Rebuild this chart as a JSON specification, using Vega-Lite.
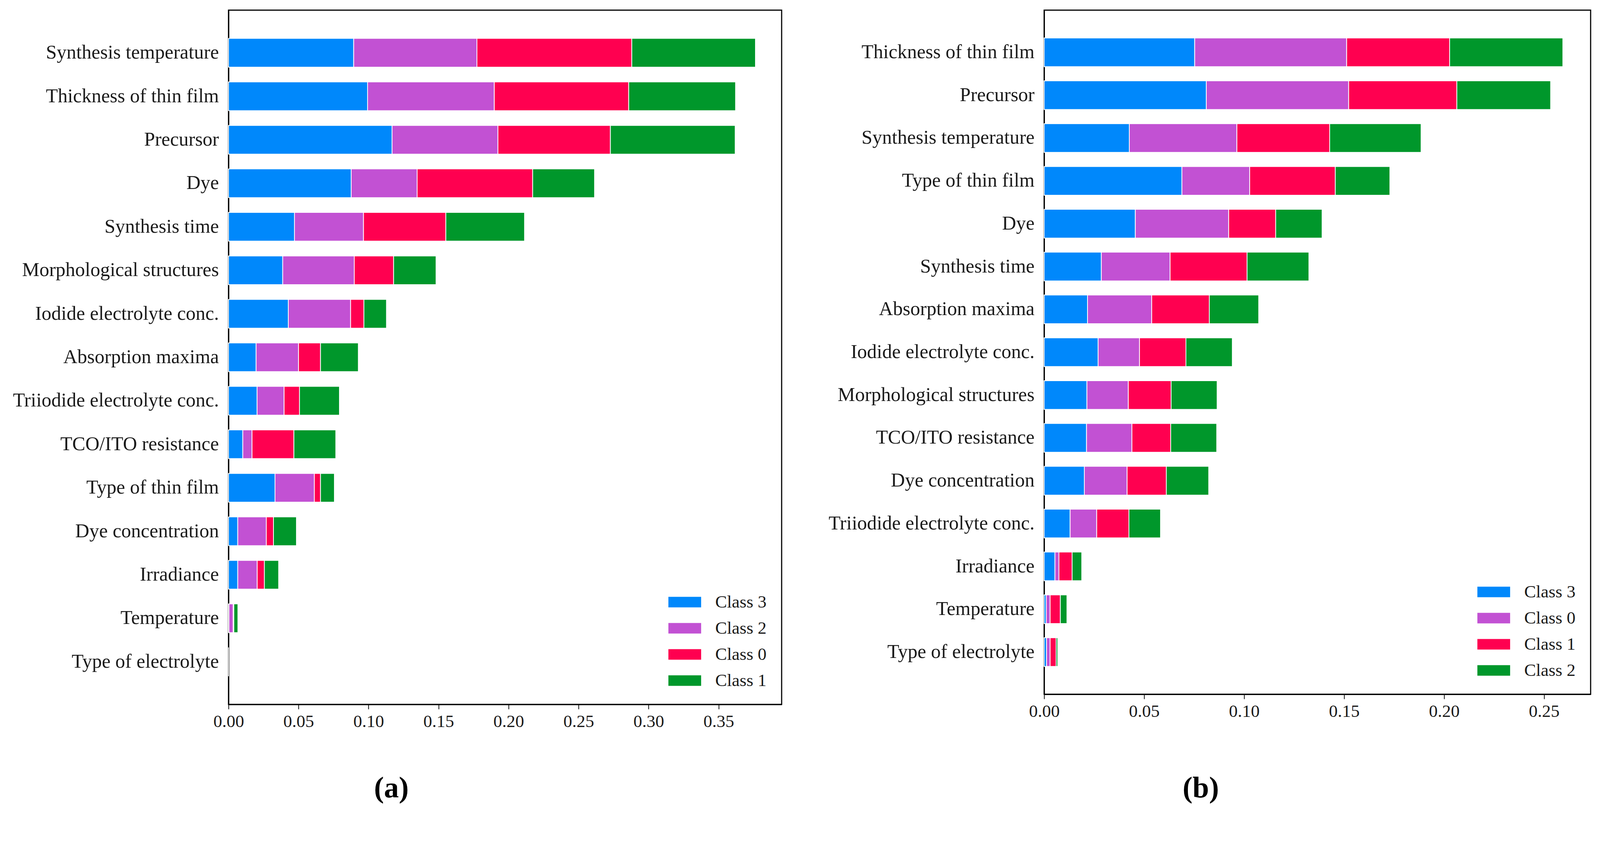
{
  "$schema": "https://vega.github.io/schema/vega-lite/v6.json",
  "background": "white",
  "padding": {"left": 31, "top": 24, "right": 20, "bottom": 0},
  "autosize": {"type": "pad"},
  "spacing": 111,
  "config": {
    "view": {"stroke": "black", "strokeWidth": 2.9},
    "font": "Liberation Serif",
    "axis": {"labelFont": "Liberation Serif", "labelColor": "#1a1a1a", "grid": false, "title": null, "domainColor": "black", "tickColor": "black", "labelFlush": false, "zindex": 1},
    "legend": {"labelFont": "Liberation Serif", "labelColor": "#1a1a1a"}
  },
  "datasets": {
    "a": [
      {"f": "Synthesis temperature", "c": "Class 3", "s": 1, "v": 0.0894},
      {"f": "Synthesis temperature", "c": "Class 2", "s": 2, "v": 0.0880},
      {"f": "Synthesis temperature", "c": "Class 0", "s": 3, "v": 0.1106},
      {"f": "Synthesis temperature", "c": "Class 1", "s": 4, "v": 0.0883},
      {"f": "Thickness of thin film", "c": "Class 3", "s": 1, "v": 0.0993},
      {"f": "Thickness of thin film", "c": "Class 2", "s": 2, "v": 0.0905},
      {"f": "Thickness of thin film", "c": "Class 0", "s": 3, "v": 0.0960},
      {"f": "Thickness of thin film", "c": "Class 1", "s": 4, "v": 0.0763},
      {"f": "Precursor", "c": "Class 3", "s": 1, "v": 0.1168},
      {"f": "Precursor", "c": "Class 2", "s": 2, "v": 0.0756},
      {"f": "Precursor", "c": "Class 0", "s": 3, "v": 0.0803},
      {"f": "Precursor", "c": "Class 1", "s": 4, "v": 0.0891},
      {"f": "Dye", "c": "Class 3", "s": 1, "v": 0.0876},
      {"f": "Dye", "c": "Class 2", "s": 2, "v": 0.0471},
      {"f": "Dye", "c": "Class 0", "s": 3, "v": 0.0825},
      {"f": "Dye", "c": "Class 1", "s": 4, "v": 0.0442},
      {"f": "Synthesis time", "c": "Class 3", "s": 1, "v": 0.0471},
      {"f": "Synthesis time", "c": "Class 2", "s": 2, "v": 0.0493},
      {"f": "Synthesis time", "c": "Class 0", "s": 3, "v": 0.0588},
      {"f": "Synthesis time", "c": "Class 1", "s": 4, "v": 0.0562},
      {"f": "Morphological structures", "c": "Class 3", "s": 1, "v": 0.0387},
      {"f": "Morphological structures", "c": "Class 2", "s": 2, "v": 0.0511},
      {"f": "Morphological structures", "c": "Class 0", "s": 3, "v": 0.0281},
      {"f": "Morphological structures", "c": "Class 1", "s": 4, "v": 0.0303},
      {"f": "Iodide electrolyte conc.", "c": "Class 3", "s": 1, "v": 0.0427},
      {"f": "Iodide electrolyte conc.", "c": "Class 2", "s": 2, "v": 0.0445},
      {"f": "Iodide electrolyte conc.", "c": "Class 0", "s": 3, "v": 0.0095},
      {"f": "Iodide electrolyte conc.", "c": "Class 1", "s": 4, "v": 0.0161},
      {"f": "Absorption maxima", "c": "Class 3", "s": 1, "v": 0.0197},
      {"f": "Absorption maxima", "c": "Class 2", "s": 2, "v": 0.0303},
      {"f": "Absorption maxima", "c": "Class 0", "s": 3, "v": 0.0157},
      {"f": "Absorption maxima", "c": "Class 1", "s": 4, "v": 0.0270},
      {"f": "Triiodide electrolyte conc.", "c": "Class 3", "s": 1, "v": 0.0204},
      {"f": "Triiodide electrolyte conc.", "c": "Class 2", "s": 2, "v": 0.0193},
      {"f": "Triiodide electrolyte conc.", "c": "Class 0", "s": 3, "v": 0.0110},
      {"f": "Triiodide electrolyte conc.", "c": "Class 1", "s": 4, "v": 0.0285},
      {"f": "TCO/ITO resistance", "c": "Class 3", "s": 1, "v": 0.0102},
      {"f": "TCO/ITO resistance", "c": "Class 2", "s": 2, "v": 0.0066},
      {"f": "TCO/ITO resistance", "c": "Class 0", "s": 3, "v": 0.0299},
      {"f": "TCO/ITO resistance", "c": "Class 1", "s": 4, "v": 0.0299},
      {"f": "Type of thin film", "c": "Class 3", "s": 1, "v": 0.0332},
      {"f": "Type of thin film", "c": "Class 2", "s": 2, "v": 0.0281},
      {"f": "Type of thin film", "c": "Class 0", "s": 3, "v": 0.0044},
      {"f": "Type of thin film", "c": "Class 1", "s": 4, "v": 0.0099},
      {"f": "Dye concentration", "c": "Class 3", "s": 1, "v": 0.0066},
      {"f": "Dye concentration", "c": "Class 2", "s": 2, "v": 0.0204},
      {"f": "Dye concentration", "c": "Class 0", "s": 3, "v": 0.0051},
      {"f": "Dye concentration", "c": "Class 1", "s": 4, "v": 0.0164},
      {"f": "Irradiance", "c": "Class 3", "s": 1, "v": 0.0066},
      {"f": "Irradiance", "c": "Class 2", "s": 2, "v": 0.0139},
      {"f": "Irradiance", "c": "Class 0", "s": 3, "v": 0.0051},
      {"f": "Irradiance", "c": "Class 1", "s": 4, "v": 0.0102},
      {"f": "Temperature", "c": "Class 3", "s": 1, "v": 0.0003},
      {"f": "Temperature", "c": "Class 2", "s": 2, "v": 0.0030},
      {"f": "Temperature", "c": "Class 0", "s": 3, "v": 0.0005},
      {"f": "Temperature", "c": "Class 1", "s": 4, "v": 0.0029},
      {"f": "Type of electrolyte", "c": "Class 3", "s": 1, "v": 0},
      {"f": "Type of electrolyte", "c": "Class 2", "s": 2, "v": 0},
      {"f": "Type of electrolyte", "c": "Class 0", "s": 3, "v": 0},
      {"f": "Type of electrolyte", "c": "Class 1", "s": 4, "v": 0}
    ],
    "b": [
      {"f": "Thickness of thin film", "c": "Class 3", "s": 1, "v": 0.0753},
      {"f": "Thickness of thin film", "c": "Class 0", "s": 2, "v": 0.0760},
      {"f": "Thickness of thin film", "c": "Class 1", "s": 3, "v": 0.0515},
      {"f": "Thickness of thin film", "c": "Class 2", "s": 4, "v": 0.0566},
      {"f": "Precursor", "c": "Class 3", "s": 1, "v": 0.0811},
      {"f": "Precursor", "c": "Class 0", "s": 2, "v": 0.0712},
      {"f": "Precursor", "c": "Class 1", "s": 3, "v": 0.0541},
      {"f": "Precursor", "c": "Class 2", "s": 4, "v": 0.0469},
      {"f": "Synthesis temperature", "c": "Class 3", "s": 1, "v": 0.0426},
      {"f": "Synthesis temperature", "c": "Class 0", "s": 2, "v": 0.0538},
      {"f": "Synthesis temperature", "c": "Class 1", "s": 3, "v": 0.0464},
      {"f": "Synthesis temperature", "c": "Class 2", "s": 4, "v": 0.0457},
      {"f": "Type of thin film", "c": "Class 3", "s": 1, "v": 0.0689},
      {"f": "Type of thin film", "c": "Class 0", "s": 2, "v": 0.0339},
      {"f": "Type of thin film", "c": "Class 1", "s": 3, "v": 0.0428},
      {"f": "Type of thin film", "c": "Class 2", "s": 4, "v": 0.0273},
      {"f": "Dye", "c": "Class 3", "s": 1, "v": 0.0456},
      {"f": "Dye", "c": "Class 0", "s": 2, "v": 0.0467},
      {"f": "Dye", "c": "Class 1", "s": 3, "v": 0.0235},
      {"f": "Dye", "c": "Class 2", "s": 4, "v": 0.0232},
      {"f": "Synthesis time", "c": "Class 3", "s": 1, "v": 0.0286},
      {"f": "Synthesis time", "c": "Class 0", "s": 2, "v": 0.0344},
      {"f": "Synthesis time", "c": "Class 1", "s": 3, "v": 0.0385},
      {"f": "Synthesis time", "c": "Class 2", "s": 4, "v": 0.0309},
      {"f": "Absorption maxima", "c": "Class 3", "s": 1, "v": 0.0217},
      {"f": "Absorption maxima", "c": "Class 0", "s": 2, "v": 0.0321},
      {"f": "Absorption maxima", "c": "Class 1", "s": 3, "v": 0.0288},
      {"f": "Absorption maxima", "c": "Class 2", "s": 4, "v": 0.0247},
      {"f": "Iodide electrolyte conc.", "c": "Class 3", "s": 1, "v": 0.0270},
      {"f": "Iodide electrolyte conc.", "c": "Class 0", "s": 2, "v": 0.0207},
      {"f": "Iodide electrolyte conc.", "c": "Class 1", "s": 3, "v": 0.0232},
      {"f": "Iodide electrolyte conc.", "c": "Class 2", "s": 4, "v": 0.0232},
      {"f": "Morphological structures", "c": "Class 3", "s": 1, "v": 0.0214},
      {"f": "Morphological structures", "c": "Class 0", "s": 2, "v": 0.0207},
      {"f": "Morphological structures", "c": "Class 1", "s": 3, "v": 0.0214},
      {"f": "Morphological structures", "c": "Class 2", "s": 4, "v": 0.0230},
      {"f": "TCO/ITO resistance", "c": "Class 3", "s": 1, "v": 0.0212},
      {"f": "TCO/ITO resistance", "c": "Class 0", "s": 2, "v": 0.0227},
      {"f": "TCO/ITO resistance", "c": "Class 1", "s": 3, "v": 0.0194},
      {"f": "TCO/ITO resistance", "c": "Class 2", "s": 4, "v": 0.0230},
      {"f": "Dye concentration", "c": "Class 3", "s": 1, "v": 0.0201},
      {"f": "Dye concentration", "c": "Class 0", "s": 2, "v": 0.0214},
      {"f": "Dye concentration", "c": "Class 1", "s": 3, "v": 0.0196},
      {"f": "Dye concentration", "c": "Class 2", "s": 4, "v": 0.0212},
      {"f": "Triiodide electrolyte conc.", "c": "Class 3", "s": 1, "v": 0.0130},
      {"f": "Triiodide electrolyte conc.", "c": "Class 0", "s": 2, "v": 0.0133},
      {"f": "Triiodide electrolyte conc.", "c": "Class 1", "s": 3, "v": 0.0161},
      {"f": "Triiodide electrolyte conc.", "c": "Class 2", "s": 4, "v": 0.0158},
      {"f": "Irradiance", "c": "Class 3", "s": 1, "v": 0.0054},
      {"f": "Irradiance", "c": "Class 0", "s": 2, "v": 0.0020},
      {"f": "Irradiance", "c": "Class 1", "s": 3, "v": 0.0066},
      {"f": "Irradiance", "c": "Class 2", "s": 4, "v": 0.0048},
      {"f": "Temperature", "c": "Class 3", "s": 1, "v": 0.0010},
      {"f": "Temperature", "c": "Class 0", "s": 2, "v": 0.0020},
      {"f": "Temperature", "c": "Class 1", "s": 3, "v": 0.0051},
      {"f": "Temperature", "c": "Class 2", "s": 4, "v": 0.0033},
      {"f": "Type of electrolyte", "c": "Class 3", "s": 1, "v": 0.0012},
      {"f": "Type of electrolyte", "c": "Class 0", "s": 2, "v": 0.0018},
      {"f": "Type of electrolyte", "c": "Class 1", "s": 3, "v": 0.0030},
      {"f": "Type of electrolyte", "c": "Class 2", "s": 4, "v": 0.0008}
    ]
  },
  "resolve": {"scale": {"color": "independent", "x": "independent", "y": "independent"}, "legend": {"color": "independent"}},
  "hconcat": [
    {
      "data": {"name": "a"},
      "width": 1416,
      "height": 1778,
      "title": {"text": "(a)", "orient": "bottom", "anchor": "middle", "frame": "bounds", "font": "Liberation Serif", "fontSize": 76, "fontWeight": "bold", "color": "black", "offset": 112, "dx": -15},
      "mark": {"type": "bar", "stroke": "white", "strokeWidth": 1.9},
      "encoding": {
        "y": {"field": "f", "type": "nominal",
          "sort": ["Synthesis temperature", "Thickness of thin film", "Precursor", "Dye", "Synthesis time", "Morphological structures", "Iodide electrolyte conc.", "Absorption maxima", "Triiodide electrolyte conc.", "TCO/ITO resistance", "Type of thin film", "Dye concentration", "Irradiance", "Temperature", "Type of electrolyte"],
          "scale": {"paddingInner": 0.34, "paddingOuter": 0.65},
          "axis": {"ticks": false, "domain": true, "domainWidth": 2.9, "labelFontSize": 50, "labelPadding": 25, "labelLimit": 560, "minExtent": 552, "maxExtent": 552}},
        "x": {"field": "v", "type": "quantitative", "stack": "zero",
          "scale": {"domain": [0, 0.395], "nice": false, "zero": true},
          "axis": {"values": [0, 0.05, 0.1, 0.15, 0.2, 0.25, 0.3, 0.35], "format": ".2f", "labelFontSize": 45, "tickSize": 12, "tickWidth": 1.9, "domainWidth": 2.9, "labelPadding": 9}},
        "color": {"field": "c", "type": "nominal",
          "scale": {"domain": ["Class 3", "Class 2", "Class 0", "Class 1"], "range": ["#0088FB", "#C251D3", "#FF0050", "#00972B"]},
          "legend": {"orient": "bottom-right", "title": null, "symbolType": "M-1,-0.32H1V0.32H-1Z", "symbolSize": 7027, "symbolStrokeWidth": 0, "symbolOpacity": 1, "labelFontSize": 45, "labelOffset": 36, "rowPadding": 2, "offset": 38, "padding": 0}},
        "order": {"field": "s", "type": "quantitative"}
      }
    },
    {
      "data": {"name": "b"},
      "width": 1399,
      "height": 1752,
      "title": {"text": "(b)", "orient": "bottom", "anchor": "middle", "frame": "bounds", "font": "Liberation Serif", "fontSize": 76, "fontWeight": "bold", "color": "black", "offset": 138, "dx": -20},
      "mark": {"type": "bar", "stroke": "white", "strokeWidth": 1.9},
      "encoding": {
        "y": {"field": "f", "type": "nominal",
          "sort": ["Thickness of thin film", "Precursor", "Synthesis temperature", "Type of thin film", "Dye", "Synthesis time", "Absorption maxima", "Iodide electrolyte conc.", "Morphological structures", "TCO/ITO resistance", "Dye concentration", "Triiodide electrolyte conc.", "Irradiance", "Temperature", "Type of electrolyte"],
          "scale": {"paddingInner": 0.33, "paddingOuter": 0.65},
          "axis": {"ticks": false, "domain": true, "domainWidth": 2.9, "labelFontSize": 50, "labelPadding": 25, "labelLimit": 560, "minExtent": 557, "maxExtent": 557}},
        "x": {"field": "v", "type": "quantitative", "stack": "zero",
          "scale": {"domain": [0, 0.2733], "nice": false, "zero": true},
          "axis": {"values": [0, 0.05, 0.1, 0.15, 0.2, 0.25], "format": ".2f", "labelFontSize": 45, "tickSize": 12, "tickWidth": 1.9, "domainWidth": 2.9, "labelPadding": 9}},
        "color": {"field": "c", "type": "nominal",
          "scale": {"domain": ["Class 3", "Class 0", "Class 1", "Class 2"], "range": ["#0088FB", "#C251D3", "#FF0050", "#00972B"]},
          "legend": {"orient": "bottom-right", "title": null, "symbolType": "M-1,-0.32H1V0.32H-1Z", "symbolSize": 7027, "symbolStrokeWidth": 0, "symbolOpacity": 1, "labelFontSize": 45, "labelOffset": 36, "rowPadding": 2, "offset": 38, "padding": 0}},
        "order": {"field": "s", "type": "quantitative"}
      }
    }
  ]
}
